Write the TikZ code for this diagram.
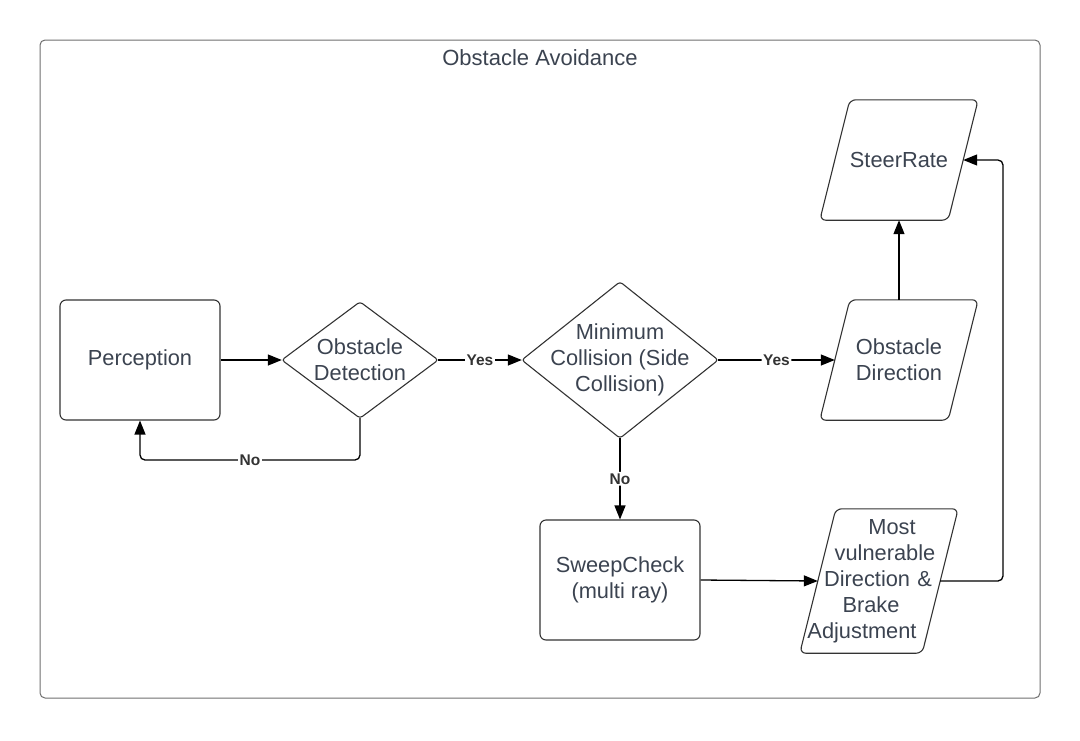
\documentclass[tikz,border=0pt]{standalone}
\usepackage{fontspec}
\setmainfont{Liberation Sans}
\usetikzlibrary{arrows.meta}
\definecolor{txtcol}{HTML}{3B4350}
\definecolor{shapecol}{HTML}{333333}
\definecolor{framecol}{HTML}{6F6F6F}
\begin{document}
\begin{tikzpicture}[x=1pt,y=-1pt,
  mainfs/.style={font=\fontsize{21.8}{26}\selectfont},
  box/.style={draw=shapecol, line width=1.1pt, rounded corners=6pt, minimum width=160pt, minimum height=120pt, align=center, text=txtcol, mainfs, inner sep=0pt},
  plain/.style={align=center, text=txtcol, mainfs, inner sep=0pt},
  outline/.style={draw=shapecol, line width=1.1pt, line join=round},
  conn/.style={draw=black, line width=1.3pt, -{Triangle[length=14pt,width=11pt]}, rounded corners=5pt},
  lbl/.style={fill=white, inner sep=1.5pt, text=black!80, font=\bfseries\fontsize{15.5}{18}\selectfont}]
\useasboundingbox (0,0) rectangle (1080,740);
% frame
\draw[framecol, line width=1pt, rounded corners=5pt] (40,40) rectangle (1040,698);
\node[plain, font=\fontsize{22}{26}\selectfont] (title) at (540,58) {Obstacle Avoidance};
% nodes
\node[box] (perc) at (140,360) {Perception};
\node[plain, minimum width=156pt, minimum height=116pt] (od) at (360,360) {Obstacle\\Detection};
\draw[outline, rounded corners=3pt] (od.north) -- (od.east) -- (od.south) -- (od.west) -- cycle;
\node[plain, minimum width=196pt, minimum height=156pt] (mc) at (620,360) {Minimum\\Collision (Side\\Collision)};
\draw[outline, rounded corners=3pt] (mc.north) -- (mc.east) -- (mc.south) -- (mc.west) -- cycle;
\node[plain, minimum width=128pt, minimum height=120pt] (odir) at (899,360) {Obstacle\\Direction};
\draw[outline, rounded corners=6pt] ([xshift=15pt]odir.north west) -- ([xshift=15pt]odir.north east) -- ([xshift=-15pt]odir.south east) -- ([xshift=-15pt]odir.south west) -- cycle;
\node[plain, minimum width=128pt, minimum height=120pt] (steer) at (899,160) {SteerRate};
\draw[outline, rounded corners=6pt] ([xshift=15pt]steer.north west) -- ([xshift=15pt]steer.north east) -- ([xshift=-15pt]steer.south east) -- ([xshift=-15pt]steer.south west) -- cycle;
\node[box] (sweep) at (620,580) {SweepCheck\\(multi ray)};
\node[plain, text width=122pt, minimum height=144pt] (vuln) at (879,581) {\makebox[0pt]{\hspace*{26pt}Most}\\\makebox[0pt]{\hspace*{12pt}vulnerable}\\\makebox[0pt]{Direction \&\hspace*{2pt}}\\\makebox[0pt]{Brake\hspace*{16pt}}\\\makebox[0pt]{Adjustment\hspace*{34pt}}};
\draw[outline, rounded corners=6pt] ([xshift=18pt]vuln.north west) -- ([xshift=18pt]vuln.north east) -- ([xshift=-18pt]vuln.south east) -- ([xshift=-18pt]vuln.south west) -- cycle;
% connectors
\draw[conn] (perc.east) -- (od.west);
\draw[conn] (od.east) -- node[lbl] {Yes} (mc.west);
\draw[conn] (od.south) -- (360,460) -- node[lbl, pos=0.5] {No} (140,460) -- (perc.south);
\draw[conn] (mc.east) -- node[lbl] {Yes} (odir.west);
\draw[conn] (mc.south) -- node[lbl] {No} (sweep.north);
\draw[conn] (sweep.east) -- (vuln.west);
\draw[conn] (vuln.east) -- (1003,581) -- (1003,160) -- (steer.east);
\draw[conn] (odir.north) -- (steer.south);
\end{tikzpicture}
\end{document}
